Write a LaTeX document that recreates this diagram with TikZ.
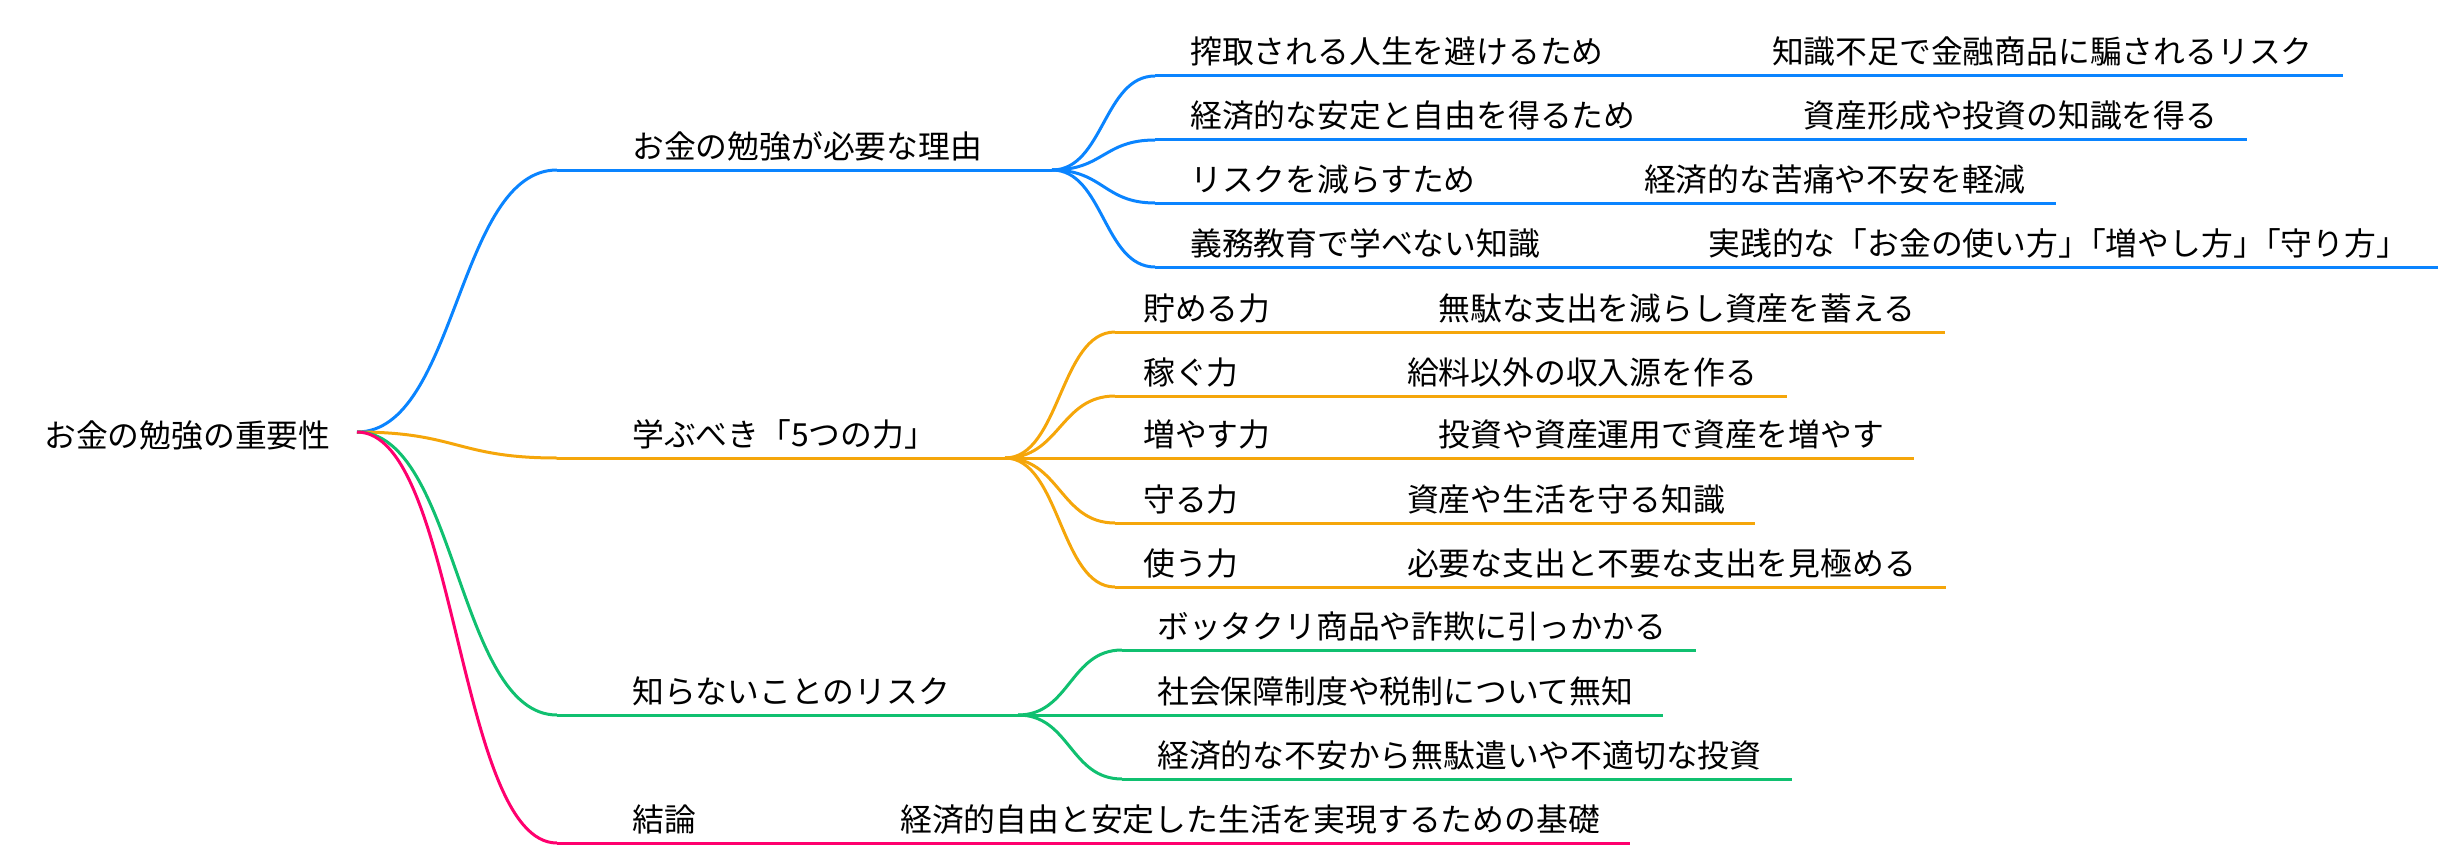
\documentclass[tikz,border=0pt]{standalone}
\usepackage{fontspec}
\setmainfont{Noto Sans CJK JP}
\usepackage{tikz}
\usetikzlibrary{positioning}
\usetikzlibrary{calc}
\definecolor{reasonblue}{RGB}{10,132,255}
\definecolor{powerorange}{RGB}{245,166,10}
\definecolor{riskgreen}{RGB}{16,192,112}
\definecolor{endpink}{RGB}{255,0,110}

\begin{document}
\begin{tikzpicture}[x=1pt,y=-1pt]
  \tikzset{txt/.style = {inner sep=0pt, anchor=base west, font=\fontsize{31.8}{38}\selectfont}}
  \tikzset{branch/.style = {line width=3pt}}
  \useasboundingbox (0,0) rectangle (2462,864);

	\node[txt] (root) at (44,447) {お金の勉強の重要性};
	\coordinate (R) at (357,432);

	% first level
	\coordinate (s1) at (557,170); \coordinate (f1) at (1052,170);
	\coordinate (s2) at (557,458); \coordinate (f2) at (1005,458);
	\coordinate (s3) at (557,715); \coordinate (f3) at (1018,715);
	\coordinate (s4) at (557,843);
	\node[txt] (k1) at (632,158) {お金の勉強が必要な理由};
	\node[txt] (k2) at (632,446) {学ぶべき「5つの力」};
	\node[txt] (k3) at (632,703) {知らないことのリスク};
	\node[txt] (k4) at (632,831) {結論};
	\node[txt, right=204pt of k4.base east, anchor=base west] (g4) {経済的自由と安定した生活を実現するための基礎};

       \foreach \to/\col in {s1/reasonblue, s2/powerorange, s3/riskgreen, s4/endpink}
    \draw[branch,\col] let \p1=(R), \p2=(\to) in (\p1) .. controls ({(\x1+\x2)/2},\y1) and ({(\x1+\x2)/2},\y2) .. (\p2);
	\draw[branch,reasonblue] (s1) -- (f1);
	\draw[branch,powerorange] (s2) -- (f2);
	\draw[branch,riskgreen] (s3) -- (f3);
	\draw[branch,endpink] (s4) -- (s4 -| g4.east) -- ++(30,0);

	% reasons
       \foreach \k/\y/\a/\b in {1/76/{搾取される人生を避けるため}/{知識不足で金融商品に騙されるリスク},
         2/140/{経済的な安定と自由を得るため}/{資産形成や投資の知識を得る},
         3/203/{リスクを減らすため}/{経済的な苦痛や不安を軽減},
         4/267/{義務教育で学べない知識}/{実践的な「お金の使い方」\kern-.5em「増やし方」\kern-.5em「守り方」}} {
	\coordinate (c1\k) at (1155,\y);
	\node[txt] (t1\k) at (1190,\y-12) {\a};
	\node[txt, right=168pt of t1\k.base east, anchor=base west] (g1\k) {\b};
	\draw[branch,reasonblue] let \p1=(f1), \p2=(c1\k) in (\p1) .. controls ({(\x1+\x2)/2},\y1) and ({(\x1+\x2)/2},\y2) .. (\p2);
	\draw[branch,reasonblue] (c1\k) -- (c1\k -| g1\k.east) -- ++(30,0);
       }

	% five powers
       \foreach \k/\y/\a/\b in {1/332/{貯める力}/{無駄な支出を減らし資産を蓄える},
         2/396/{稼ぐ力}/{給料以外の収入源を作る},
         3/458/{増やす力}/{投資や資産運用で資産を増やす},
         4/523/{守る力}/{資産や生活を守る知識},
         5/587/{使う力}/{必要な支出と不要な支出を見極める}} {
	\coordinate (c2\k) at (1115,\y);
	\node[txt] (t2\k) at (1143,\y-12) {\a};
	\node[txt, right=168pt of t2\k.base east, anchor=base west] (g2\k) {\b};
	\draw[branch,powerorange] let \p1=(f2), \p2=(c2\k) in (\p1) .. controls ({(\x1+\x2)/2},\y1) and ({(\x1+\x2)/2},\y2) .. (\p2);
	\draw[branch,powerorange] (c2\k) -- (c2\k -| g2\k.east) -- ++(30,0);
       }

	% risks
       \foreach \k/\y/\a in {1/650/{ボッタクリ商品や詐欺に引っかかる},
         2/715/{社会保障制度や税制について無知},
         3/779/{経済的な不安から無駄遣いや不適切な投資}} {
	\coordinate (c3\k) at (1122,\y);
	\node[txt] (t3\k) at (1157,\y-12) {\a};
	\draw[branch,riskgreen] let \p1=(f3), \p2=(c3\k) in (\p1) .. controls ({(\x1+\x2)/2},\y1) and ({(\x1+\x2)/2},\y2) .. (\p2);
	\draw[branch,riskgreen] (c3\k) -- (c3\k -| t3\k.east) -- ++(30,0);
       }
\end{tikzpicture}
\end{document}
